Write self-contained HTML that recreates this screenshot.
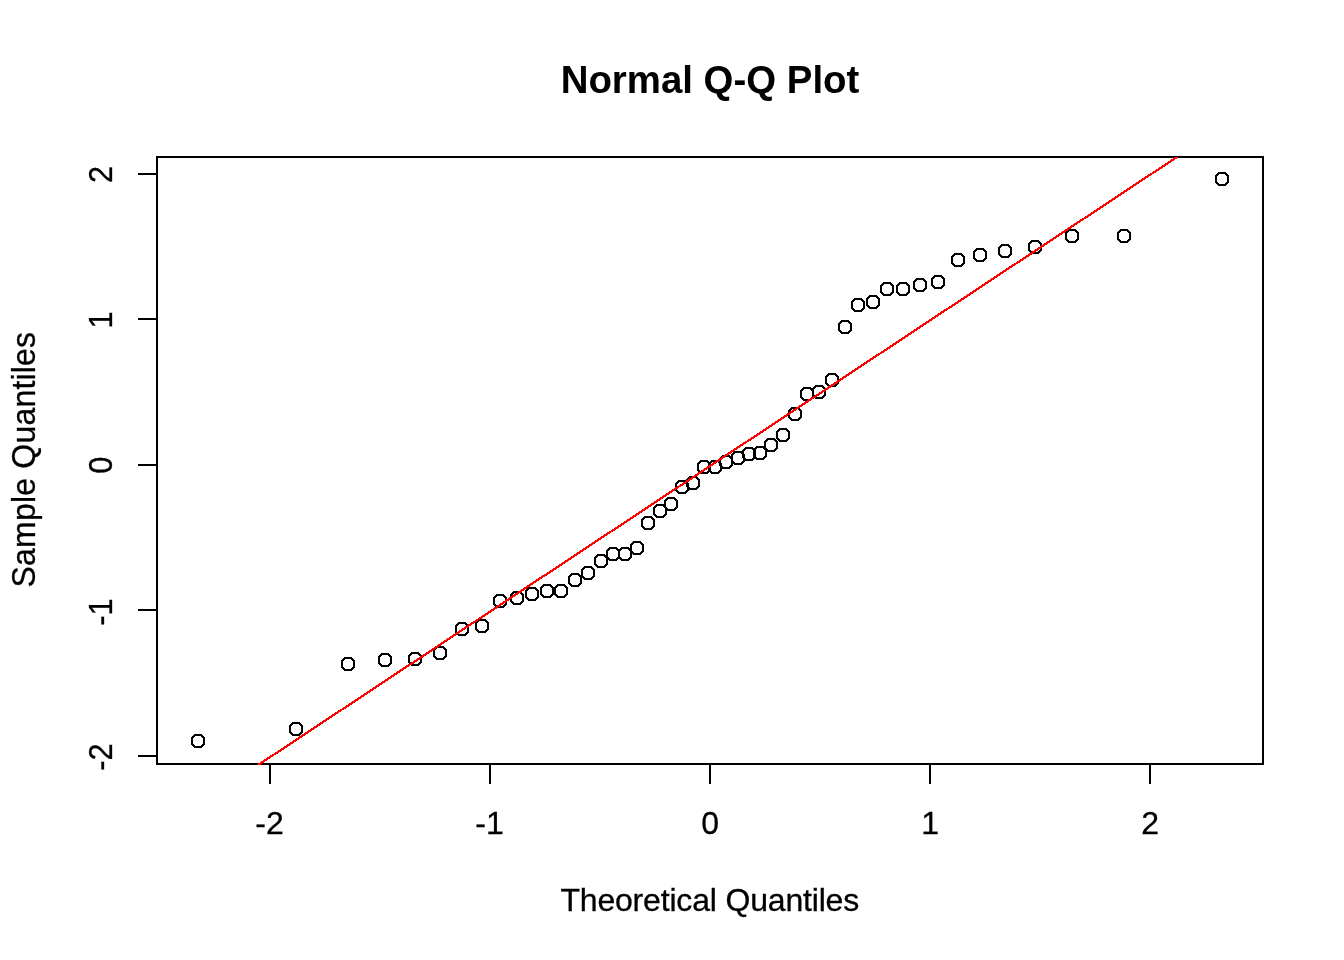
<!DOCTYPE html>
<html><head><meta charset="utf-8"><title>Normal Q-Q Plot</title>
<style>
html,body{margin:0;padding:0;background:#fff;}
body{width:1344px;height:960px;overflow:hidden;}
svg{display:block;}
text{font-family:"Liberation Sans",Arial,Helvetica,sans-serif;fill:#000;}
</style></head><body>
<svg width="1344" height="960" viewBox="0 0 1344 960">
<rect width="1344" height="960" fill="#fff"/>
<g fill="none" stroke="#000" stroke-width="2" shape-rendering="crispEdges">
<g class="pts" fill="#000" stroke="none" fill-rule="evenodd">
<path transform="translate(198 741)" d="M-3.9-7h7.8l3.1,3.1v7.8l-3.1,3.1h-7.8l-3.1-3.1v-7.8zM-2.5-5h5l2.5,2.5v5l-2.5,2.5h-5l-2.5-2.5v-5z"/>
<path transform="translate(296 729)" d="M-3.9-7h7.8l3.1,3.1v7.8l-3.1,3.1h-7.8l-3.1-3.1v-7.8zM-2.5-5h5l2.5,2.5v5l-2.5,2.5h-5l-2.5-2.5v-5z"/>
<path transform="translate(348 664)" d="M-3.9-7h7.8l3.1,3.1v7.8l-3.1,3.1h-7.8l-3.1-3.1v-7.8zM-2.5-5h5l2.5,2.5v5l-2.5,2.5h-5l-2.5-2.5v-5z"/>
<path transform="translate(385 660)" d="M-3.9-7h7.8l3.1,3.1v7.8l-3.1,3.1h-7.8l-3.1-3.1v-7.8zM-2.5-5h5l2.5,2.5v5l-2.5,2.5h-5l-2.5-2.5v-5z"/>
<path transform="translate(415 659)" d="M-3.9-7h7.8l3.1,3.1v7.8l-3.1,3.1h-7.8l-3.1-3.1v-7.8zM-2.5-5h5l2.5,2.5v5l-2.5,2.5h-5l-2.5-2.5v-5z"/>
<path transform="translate(440 653)" d="M-3.9-7h7.8l3.1,3.1v7.8l-3.1,3.1h-7.8l-3.1-3.1v-7.8zM-2.5-5h5l2.5,2.5v5l-2.5,2.5h-5l-2.5-2.5v-5z"/>
<path transform="translate(462 629)" d="M-3.9-7h7.8l3.1,3.1v7.8l-3.1,3.1h-7.8l-3.1-3.1v-7.8zM-2.5-5h5l2.5,2.5v5l-2.5,2.5h-5l-2.5-2.5v-5z"/>
<path transform="translate(482 626)" d="M-3.9-7h7.8l3.1,3.1v7.8l-3.1,3.1h-7.8l-3.1-3.1v-7.8zM-2.5-5h5l2.5,2.5v5l-2.5,2.5h-5l-2.5-2.5v-5z"/>
<path transform="translate(500 601)" d="M-3.9-7h7.8l3.1,3.1v7.8l-3.1,3.1h-7.8l-3.1-3.1v-7.8zM-2.5-5h5l2.5,2.5v5l-2.5,2.5h-5l-2.5-2.5v-5z"/>
<path transform="translate(517 598)" d="M-3.9-7h7.8l3.1,3.1v7.8l-3.1,3.1h-7.8l-3.1-3.1v-7.8zM-2.5-5h5l2.5,2.5v5l-2.5,2.5h-5l-2.5-2.5v-5z"/>
<path transform="translate(532 594)" d="M-3.9-7h7.8l3.1,3.1v7.8l-3.1,3.1h-7.8l-3.1-3.1v-7.8zM-2.5-5h5l2.5,2.5v5l-2.5,2.5h-5l-2.5-2.5v-5z"/>
<path transform="translate(547 591)" d="M-3.9-7h7.8l3.1,3.1v7.8l-3.1,3.1h-7.8l-3.1-3.1v-7.8zM-2.5-5h5l2.5,2.5v5l-2.5,2.5h-5l-2.5-2.5v-5z"/>
<path transform="translate(561 591)" d="M-3.9-7h7.8l3.1,3.1v7.8l-3.1,3.1h-7.8l-3.1-3.1v-7.8zM-2.5-5h5l2.5,2.5v5l-2.5,2.5h-5l-2.5-2.5v-5z"/>
<path transform="translate(575 580)" d="M-3.9-7h7.8l3.1,3.1v7.8l-3.1,3.1h-7.8l-3.1-3.1v-7.8zM-2.5-5h5l2.5,2.5v5l-2.5,2.5h-5l-2.5-2.5v-5z"/>
<path transform="translate(588 573)" d="M-3.9-7h7.8l3.1,3.1v7.8l-3.1,3.1h-7.8l-3.1-3.1v-7.8zM-2.5-5h5l2.5,2.5v5l-2.5,2.5h-5l-2.5-2.5v-5z"/>
<path transform="translate(601 561)" d="M-3.9-7h7.8l3.1,3.1v7.8l-3.1,3.1h-7.8l-3.1-3.1v-7.8zM-2.5-5h5l2.5,2.5v5l-2.5,2.5h-5l-2.5-2.5v-5z"/>
<path transform="translate(613 554)" d="M-3.9-7h7.8l3.1,3.1v7.8l-3.1,3.1h-7.8l-3.1-3.1v-7.8zM-2.5-5h5l2.5,2.5v5l-2.5,2.5h-5l-2.5-2.5v-5z"/>
<path transform="translate(625 554)" d="M-3.9-7h7.8l3.1,3.1v7.8l-3.1,3.1h-7.8l-3.1-3.1v-7.8zM-2.5-5h5l2.5,2.5v5l-2.5,2.5h-5l-2.5-2.5v-5z"/>
<path transform="translate(637 548)" d="M-3.9-7h7.8l3.1,3.1v7.8l-3.1,3.1h-7.8l-3.1-3.1v-7.8zM-2.5-5h5l2.5,2.5v5l-2.5,2.5h-5l-2.5-2.5v-5z"/>
<path transform="translate(648 523)" d="M-3.9-7h7.8l3.1,3.1v7.8l-3.1,3.1h-7.8l-3.1-3.1v-7.8zM-2.5-5h5l2.5,2.5v5l-2.5,2.5h-5l-2.5-2.5v-5z"/>
<path transform="translate(660 511)" d="M-3.9-7h7.8l3.1,3.1v7.8l-3.1,3.1h-7.8l-3.1-3.1v-7.8zM-2.5-5h5l2.5,2.5v5l-2.5,2.5h-5l-2.5-2.5v-5z"/>
<path transform="translate(671 504)" d="M-3.9-7h7.8l3.1,3.1v7.8l-3.1,3.1h-7.8l-3.1-3.1v-7.8zM-2.5-5h5l2.5,2.5v5l-2.5,2.5h-5l-2.5-2.5v-5z"/>
<path transform="translate(682 487)" d="M-3.9-7h7.8l3.1,3.1v7.8l-3.1,3.1h-7.8l-3.1-3.1v-7.8zM-2.5-5h5l2.5,2.5v5l-2.5,2.5h-5l-2.5-2.5v-5z"/>
<path transform="translate(693 483)" d="M-3.9-7h7.8l3.1,3.1v7.8l-3.1,3.1h-7.8l-3.1-3.1v-7.8zM-2.5-5h5l2.5,2.5v5l-2.5,2.5h-5l-2.5-2.5v-5z"/>
<path transform="translate(704 467)" d="M-3.9-7h7.8l3.1,3.1v7.8l-3.1,3.1h-7.8l-3.1-3.1v-7.8zM-2.5-5h5l2.5,2.5v5l-2.5,2.5h-5l-2.5-2.5v-5z"/>
<path transform="translate(715 467)" d="M-3.9-7h7.8l3.1,3.1v7.8l-3.1,3.1h-7.8l-3.1-3.1v-7.8zM-2.5-5h5l2.5,2.5v5l-2.5,2.5h-5l-2.5-2.5v-5z"/>
<path transform="translate(726 462)" d="M-3.9-7h7.8l3.1,3.1v7.8l-3.1,3.1h-7.8l-3.1-3.1v-7.8zM-2.5-5h5l2.5,2.5v5l-2.5,2.5h-5l-2.5-2.5v-5z"/>
<path transform="translate(738 458)" d="M-3.9-7h7.8l3.1,3.1v7.8l-3.1,3.1h-7.8l-3.1-3.1v-7.8zM-2.5-5h5l2.5,2.5v5l-2.5,2.5h-5l-2.5-2.5v-5z"/>
<path transform="translate(749 454)" d="M-3.9-7h7.8l3.1,3.1v7.8l-3.1,3.1h-7.8l-3.1-3.1v-7.8zM-2.5-5h5l2.5,2.5v5l-2.5,2.5h-5l-2.5-2.5v-5z"/>
<path transform="translate(760 453)" d="M-3.9-7h7.8l3.1,3.1v7.8l-3.1,3.1h-7.8l-3.1-3.1v-7.8zM-2.5-5h5l2.5,2.5v5l-2.5,2.5h-5l-2.5-2.5v-5z"/>
<path transform="translate(771 445)" d="M-3.9-7h7.8l3.1,3.1v7.8l-3.1,3.1h-7.8l-3.1-3.1v-7.8zM-2.5-5h5l2.5,2.5v5l-2.5,2.5h-5l-2.5-2.5v-5z"/>
<path transform="translate(783 435)" d="M-3.9-7h7.8l3.1,3.1v7.8l-3.1,3.1h-7.8l-3.1-3.1v-7.8zM-2.5-5h5l2.5,2.5v5l-2.5,2.5h-5l-2.5-2.5v-5z"/>
<path transform="translate(795 414)" d="M-3.9-7h7.8l3.1,3.1v7.8l-3.1,3.1h-7.8l-3.1-3.1v-7.8zM-2.5-5h5l2.5,2.5v5l-2.5,2.5h-5l-2.5-2.5v-5z"/>
<path transform="translate(807 394)" d="M-3.9-7h7.8l3.1,3.1v7.8l-3.1,3.1h-7.8l-3.1-3.1v-7.8zM-2.5-5h5l2.5,2.5v5l-2.5,2.5h-5l-2.5-2.5v-5z"/>
<path transform="translate(819 392)" d="M-3.9-7h7.8l3.1,3.1v7.8l-3.1,3.1h-7.8l-3.1-3.1v-7.8zM-2.5-5h5l2.5,2.5v5l-2.5,2.5h-5l-2.5-2.5v-5z"/>
<path transform="translate(832 380)" d="M-3.9-7h7.8l3.1,3.1v7.8l-3.1,3.1h-7.8l-3.1-3.1v-7.8zM-2.5-5h5l2.5,2.5v5l-2.5,2.5h-5l-2.5-2.5v-5z"/>
<path transform="translate(845 327)" d="M-3.9-7h7.8l3.1,3.1v7.8l-3.1,3.1h-7.8l-3.1-3.1v-7.8zM-2.5-5h5l2.5,2.5v5l-2.5,2.5h-5l-2.5-2.5v-5z"/>
<path transform="translate(858 305)" d="M-3.9-7h7.8l3.1,3.1v7.8l-3.1,3.1h-7.8l-3.1-3.1v-7.8zM-2.5-5h5l2.5,2.5v5l-2.5,2.5h-5l-2.5-2.5v-5z"/>
<path transform="translate(873 302)" d="M-3.9-7h7.8l3.1,3.1v7.8l-3.1,3.1h-7.8l-3.1-3.1v-7.8zM-2.5-5h5l2.5,2.5v5l-2.5,2.5h-5l-2.5-2.5v-5z"/>
<path transform="translate(887 289)" d="M-3.9-7h7.8l3.1,3.1v7.8l-3.1,3.1h-7.8l-3.1-3.1v-7.8zM-2.5-5h5l2.5,2.5v5l-2.5,2.5h-5l-2.5-2.5v-5z"/>
<path transform="translate(903 289)" d="M-3.9-7h7.8l3.1,3.1v7.8l-3.1,3.1h-7.8l-3.1-3.1v-7.8zM-2.5-5h5l2.5,2.5v5l-2.5,2.5h-5l-2.5-2.5v-5z"/>
<path transform="translate(920 285)" d="M-3.9-7h7.8l3.1,3.1v7.8l-3.1,3.1h-7.8l-3.1-3.1v-7.8zM-2.5-5h5l2.5,2.5v5l-2.5,2.5h-5l-2.5-2.5v-5z"/>
<path transform="translate(938 282)" d="M-3.9-7h7.8l3.1,3.1v7.8l-3.1,3.1h-7.8l-3.1-3.1v-7.8zM-2.5-5h5l2.5,2.5v5l-2.5,2.5h-5l-2.5-2.5v-5z"/>
<path transform="translate(958 260)" d="M-3.9-7h7.8l3.1,3.1v7.8l-3.1,3.1h-7.8l-3.1-3.1v-7.8zM-2.5-5h5l2.5,2.5v5l-2.5,2.5h-5l-2.5-2.5v-5z"/>
<path transform="translate(980 255)" d="M-3.9-7h7.8l3.1,3.1v7.8l-3.1,3.1h-7.8l-3.1-3.1v-7.8zM-2.5-5h5l2.5,2.5v5l-2.5,2.5h-5l-2.5-2.5v-5z"/>
<path transform="translate(1005 251)" d="M-3.9-7h7.8l3.1,3.1v7.8l-3.1,3.1h-7.8l-3.1-3.1v-7.8zM-2.5-5h5l2.5,2.5v5l-2.5,2.5h-5l-2.5-2.5v-5z"/>
<path transform="translate(1035 247)" d="M-3.9-7h7.8l3.1,3.1v7.8l-3.1,3.1h-7.8l-3.1-3.1v-7.8zM-2.5-5h5l2.5,2.5v5l-2.5,2.5h-5l-2.5-2.5v-5z"/>
<path transform="translate(1072 236)" d="M-3.9-7h7.8l3.1,3.1v7.8l-3.1,3.1h-7.8l-3.1-3.1v-7.8zM-2.5-5h5l2.5,2.5v5l-2.5,2.5h-5l-2.5-2.5v-5z"/>
<path transform="translate(1124 236)" d="M-3.9-7h7.8l3.1,3.1v7.8l-3.1,3.1h-7.8l-3.1-3.1v-7.8zM-2.5-5h5l2.5,2.5v5l-2.5,2.5h-5l-2.5-2.5v-5z"/>
<path transform="translate(1222 179)" d="M-3.9-7h7.8l3.1,3.1v7.8l-3.1,3.1h-7.8l-3.1-3.1v-7.8zM-2.5-5h5l2.5,2.5v5l-2.5,2.5h-5l-2.5-2.5v-5z"/>
</g>
<rect x="157" y="157" width="1106" height="607"/>
<line x1="270" y1="764" x2="1150" y2="764"/>
<line x1="270" y1="764" x2="270" y2="784"/><line x1="490" y1="764" x2="490" y2="784"/><line x1="710" y1="764" x2="710" y2="784"/><line x1="930" y1="764" x2="930" y2="784"/><line x1="1150" y1="764" x2="1150" y2="784"/>
<line x1="157" y1="756" x2="157" y2="174"/>
<line x1="138" y1="756" x2="157" y2="756"/><line x1="138" y1="610" x2="157" y2="610"/><line x1="138" y1="465" x2="157" y2="465"/><line x1="138" y1="319" x2="157" y2="319"/><line x1="138" y1="174" x2="157" y2="174"/>
</g>
<polygon class="refline" points="256.14,765 260.14,765 1178.96,157 1174.96,157" fill="#f00" shape-rendering="crispEdges"/>
<g font-size="32px" stroke="#000" stroke-width="0.3"><text x="269.5" y="834" text-anchor="middle">-2</text><text x="489.5" y="834" text-anchor="middle">-1</text><text x="710.2" y="834" text-anchor="middle">0</text><text x="930.2" y="834" text-anchor="middle">1</text><text x="1150.2" y="834" text-anchor="middle">2</text><text transform="translate(112.3,757) rotate(-90) scale(0.96,1.05)" text-anchor="middle">-2</text><text transform="translate(112.3,612) rotate(-90) scale(0.96,1.05)" text-anchor="middle">-1</text><text transform="translate(112.3,465.2) rotate(-90) scale(0.96,1.05)" text-anchor="middle">0</text><text transform="translate(112.3,320) rotate(-90) scale(0.96,1.05)" text-anchor="middle">1</text><text transform="translate(112.3,174.5) rotate(-90) scale(0.96,1.05)" text-anchor="middle">2</text>
<text x="560.4" y="911" textLength="298.8" lengthAdjust="spacing">Theoretical Quantiles</text>
<text transform="translate(35.2,587.5) rotate(-90) scale(1,1.04)" textLength="255.6" lengthAdjust="spacing">Sample Quantiles</text>
</g>
<text x="710" y="92.5" text-anchor="middle" font-size="38.4px" font-weight="bold">Normal Q-Q Plot</text>
</svg>
</body></html>
